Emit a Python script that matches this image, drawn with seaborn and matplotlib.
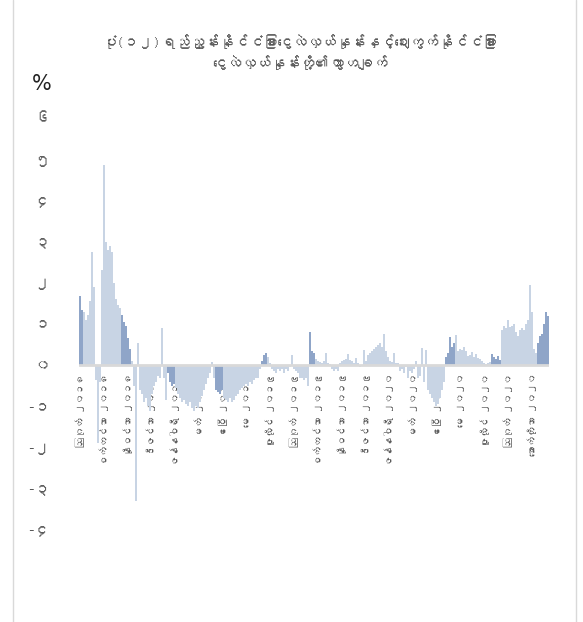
import numpy as np
import pandas as pd
import seaborn as sns
import matplotlib.pyplot as plt
from matplotlib import font_manager, ft2font
from matplotlib.lines import Line2D

# gap (%) between reference rate and market rate
gap = [
    1.67, 1.35, 1.28, 1.10, 1.22, 1.55, 2.75, 1.90, -0.35, -1.90,
    -0.40, 2.30, 4.85, 3.00, 2.80, 2.90, 2.75, 2.00, 1.60, 1.45,
    1.40, 1.22, 1.05, 0.95, 0.65, 0.40, 0.10, -0.50, -3.30, 0.55,
    -0.60, -0.70, -0.90, -0.80, -1.00, -1.10, -0.70, -0.50, -0.40, -0.25,
    -0.30, 0.90, -0.30, -0.85, -0.20, -0.40, -0.50, -0.45, -0.55, -0.70,
    -0.80, -0.90, -0.85, -0.95, -1.00, -0.90, -1.05, -1.10, -1.00, -1.05,
    -0.90, -0.75, -0.60, -0.45, -0.30, -0.20, 0.08, -0.30, -0.60, -0.65,
    -0.70, -0.60, -0.80, -0.85, -0.90, -0.80, -0.90, -0.85, -0.75, -0.70,
    -0.60, -0.55, -0.50, -0.45, -0.50, -0.40, -0.45, -0.35, -0.30, -0.30,
    -0.10, 0.10, 0.25, 0.30, 0.20, 0.05, -0.10, -0.15, -0.20, -0.10,
    -0.15, -0.10, -0.20, -0.10, -0.15, -0.05, 0.25, -0.10, -0.15, -0.20,
    -0.30, -0.30, -0.35, -0.30, -0.50, 0.80, 0.35, 0.30, 0.15, 0.10,
    0.08, 0.05, 0.10, 0.30, 0.05, 0.02, -0.10, -0.15, -0.10, -0.15,
    0.05, 0.10, 0.12, 0.15, 0.28, 0.12, 0.10, 0.05, 0.18, 0.05,
    -0.05, -0.03, 0.36, 0.10, 0.25, 0.30, 0.35, 0.40, 0.45, 0.50,
    0.55, 0.45, 0.75, 0.35, 0.20, 0.10, 0.08, 0.30, 0.05, 0.05,
    -0.15, -0.10, -0.20, -0.05, -0.30, -0.15, -0.20, -0.10, 0.10, -0.30,
    -0.25, 0.42, -0.40, 0.36, -0.60, -0.70, -0.80, -0.90, -1.00, -0.95,
    -0.80, -0.60, -0.40, 0.20, 0.30, 0.69, 0.45, 0.55, 0.74, 0.35,
    0.40, 0.38, 0.44, 0.35, 0.22, 0.25, 0.32, 0.20, 0.28, 0.18,
    0.15, 0.10, 0.06, 0.04, 0.05, 0.08, 0.28, 0.20, 0.15, 0.22,
    0.12, 0.85, 0.95, 0.90, 1.09, 0.92, 0.95, 1.00, 0.80, 0.70,
    0.85, 0.90, 0.85, 1.00, 1.10, 1.95, 1.30, 0.40, 0.30, 0.55,
    0.70, 0.75, 1.00, 1.30, 1.20,
]

# stretches of bars drawn in the darker blue (bar index ranges)
dark_spans = [(0, 1), (21, 25), (44, 47), (68, 71), (91, 93), (115, 117),
              (183, 187), (206, 210), (229, 234)]

x_labels = [
    "ဩဂုတ် ၂၀၁၈", "စက်တင်ဘာ ၂၀၁၈", "နိုဝင်ဘာ ၂၀၁၈", "ဒီဇင်ဘာ ၂၀၁၈",
    "ဇန်နဝါရီ ၂၀၁၉", "မတ် ၂၀၁၉", "ဧပြီ ၂၀၁၉", "မေ ၂၀၁၉",
    "ဇူလိုင် ၂၀၁၉", "ဩဂုတ် ၂၀၁၉", "စက်တင်ဘာ ၂၀၁၉", "နိုဝင်ဘာ ၂၀၁၉",
    "ဒီဇင်ဘာ ၂၀၁၉", "ဇန်နဝါရီ ၂၀၂၀", "မတ် ၂၀၂၀", "ဧပြီ ၂၀၂၀",
    "မေ ၂၀၂၀", "ဇူလိုင် ၂၀၂၀", "ဩဂုတ် ၂၀၂၀", "အောက်တိုဘာ ၂၀၂၀",
]
y_ticks = [-4, -3, -2, -1, 0, 1, 2, 3, 4, 5, 6]
y_labels = ["-၄", "-၃", "-၂", "-၁", "၀", "၁", "၂", "၃", "၄", "၅", "၆"]

title = ("ပုံ(၁၂)ရည်ညွှန်းနိုင်ငံခြားငွေလဲလှယ်နှုန်းနှင့်ဈေးကွက်နိုင်ငံခြား\n"
         "ငွေလဲလှယ်နှုန်းတို့၏ကွာဟချက်")


def myanmar_font():
    # look for any installed font that covers the Myanmar block
    for f in font_manager.fontManager.ttflist:
        try:
            cmap = ft2font.FT2Font(f.fname).get_charmap()
        except Exception:
            continue
        if 0x1000 in cmap and 0x1040 in cmap:
            return f.name
    return None


def main():
    sns.set_theme(style="white")
    mm = myanmar_font()
    fams = [mm, "DejaVu Sans"] if mm else ["Noto Sans", "DejaVu Sans"]
    plt.rcParams["font.family"] = fams

    tone = np.array(["light"] * len(gap), dtype=object)
    for a, b in dark_spans:
        tone[a:b + 1] = "dark"
    df = pd.DataFrame({"idx": np.arange(len(gap)), "gap": gap, "tone": tone})

    fig = plt.figure(figsize=(5.83, 6.22), dpi=100)
    ax = fig.add_axes([79 / 583, 1 - 530 / 622, 470 / 583, 412 / 622])

    sns.barplot(data=df, x="idx", y="gap", hue="tone",
                palette={"light": "#c3d3e9", "dark": "#86a3d1"},
                native_scale=True, width=1.0, errorbar=None,
                legend=False, linewidth=0, ax=ax)

    ax.axhline(0, color="#d9d9d9", lw=2, zorder=5)
    ax.set_xlim(-0.5, len(gap) - 0.5)
    ax.set_ylim(-4, 6)
    sns.despine(ax=ax, left=True, bottom=True)
    # category labels hang from the zero line, as in the original
    ax.spines["bottom"].set_position(("data", 0))

    ax.set_yticks(y_ticks)
    ax.set_yticklabels(y_labels, fontsize=11, color="#595959")
    ax.tick_params(axis="y", length=0, pad=21)

    tick_pos = np.arange(len(x_labels)) * 11.9
    ax.set_xticks(tick_pos)
    ax.set_xticklabels(x_labels, rotation=90, fontsize=7, color="#595959",
                       va="top", ha="center")
    ax.tick_params(axis="x", length=0, pad=6)
    ax.set_xlabel("")
    ax.set_ylabel("")

    fig.text(300 / 583, 1 - 52 / 622, title, ha="center", va="center",
             fontsize=10.5, color="#595959", linespacing=1.5)
    fig.text(42 / 583, 1 - 84 / 622, "%", ha="center", va="center",
             fontsize=15, color="#222222", family="DejaVu Sans")

    # chart area border (left and right edges)
    for xb in (12.5 / 583, 575.5 / 583):
        fig.add_artist(Line2D([xb, xb], [0, 1], transform=fig.transFigure,
                              color="#d9d9d9", lw=1))

    fig.savefig("out.png", dpi=100)
    plt.close(fig)


if __name__ == "__main__":
    main()
